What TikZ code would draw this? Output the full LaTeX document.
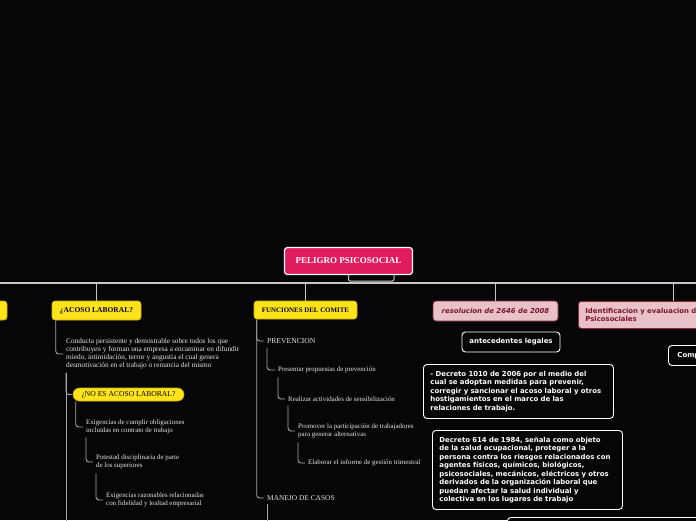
\documentclass[tikz,border=0pt]{standalone}
\usepackage{fontspec}
\setmainfont{Liberation Serif}
\newfontfamily\vsans{DejaVu Sans}
\definecolor{bgc}{HTML}{060608}
\definecolor{linec}{HTML}{C4C4C4}
\definecolor{clinec}{HTML}{A8A8A8}
\definecolor{yel}{HTML}{FFE31A}
\definecolor{yelb}{HTML}{C9AE00}
\definecolor{crim}{HTML}{E01B5E}
\definecolor{pinkf}{HTML}{E8C2C8}
\definecolor{pinkb}{HTML}{8E2535}
\definecolor{pinkt}{HTML}{7B1526}
\definecolor{txtw}{HTML}{E6E6E6}
\begin{document}
\begin{tikzpicture}[x=1pt,y=-1pt,
  mainline/.style={draw=linec,line width=1.4pt,rounded corners=4pt},
  cline/.style={draw=clinec,line width=0.9pt,rounded corners=3pt},
  rootbox/.style={draw=white,line width=1.2pt,fill=crim,rounded corners=3pt,inner sep=0pt,
    text=white,font=\bfseries\fontsize{9}{10}\selectfont},
  ybox/.style={draw=yelb,line width=0.6pt,fill=yel,rounded corners=3pt,inner sep=0pt,text=black},
  pbox/.style={draw=pinkb,line width=0.8pt,fill=pinkf,rounded corners=3pt,text=pinkt},
  wbox/.style={draw=white,line width=0.9pt,fill=bgc,rounded corners=3.5pt,text=white,
    font=\vsans\bfseries\fontsize{6.9}{8.5}\selectfont},
  stxt/.style={anchor=west,inner sep=0pt,align=left,text=txtw,font=\fontsize{6.9}{8.1}\selectfont}
]
\clip (0,0) rectangle (696,520);
\fill[bgc] (0,0) rectangle (696,520);

% root
\node[rootbox,minimum width=128pt,minimum height=27pt] (root) at (348.5,261) {PELIGRO PSICOSOCIAL};
\coordinate (tabr) at (394,275);
\draw[draw=linec,line width=1pt,rounded corners=2pt] (root.south) -- ++(0,6) -| (tabr);

% main horizontal line
\coordinate (hl) at (0,283);
\coordinate (hr) at (696,283);
\draw[mainline] (hl) -- (hr);

% first-level nodes
\node[ybox,minimum width=90pt,minimum height=19pt] (left) at (-38,310.5) {};
\node[ybox,minimum width=89pt,minimum height=19pt,font=\bfseries\fontsize{7.5}{8}\selectfont] (acoso) at (96.5,310.5) {¿ACOSO LABORAL?};
\node[ybox,minimum width=103pt,minimum height=18pt,font=\bfseries\fontsize{6.9}{7}\selectfont] (func) at (305.5,310) {FUNCIONES DEL COMITE};
\node[pbox,minimum width=125pt,minimum height=20pt,inner sep=0pt,font=\vsans\bfseries\itshape\fontsize{6.9}{8}\selectfont] (resol) at (495.5,311) {resolucion de 2646 de 2008};
\node[pbox,anchor=north west,minimum width=190pt,minimum height=27pt,inner xsep=7pt,inner ysep=0pt,text width=176pt,align=left,font=\vsans\bfseries\fontsize{6.9}{8.2}\selectfont] (ident) at (578,301) {Identificacion y evaluacion de\\Psicosociales};

\draw[mainline] (acoso.north |- hl) -- (acoso.north);
\draw[mainline] (func.north |- hl) -- (func.north);
\draw[mainline] (resol.north |- hl) -- (resol.north);
\draw[mainline] (ident.north |- hl) -- (ident.north);

% ACOSO LABORAL branch
\node[stxt,font=\fontsize{7.3}{8.1}\selectfont] (conducta) at (66,354) {Conducta persistente y demostrable sobre todos los que\\contribuyen y forman una empresa a encaminar en difundir\\miedo, intimidación, terror y angustia el cual genera\\desmotivación en el trabajo o renuncia del mismo};
\draw[cline] ([xshift=4pt]acoso.south west) |- ([xshift=-3pt]conducta.west);

\node[ybox,rounded corners=6.5pt,minimum width=111pt,minimum height=13pt,font=\fontsize{7.6}{8}\selectfont] (noes) at (128.5,394.5) {¿NO ES ACOSO LABORAL?};
\coordinate (cdown) at ([yshift=-3pt]conducta.south west);
\coordinate (cend) at (66,525);
\draw[cline] (cdown) -- (cend);
\draw[cline] (cdown) |- ([xshift=-1pt]noes.west);

\node[stxt] (exig) at (86,427) {Exigencias de cumplir obligaciones\\incluidas en contrato de trabajo};
\node[stxt] (potes) at (96,462) {Potestad disciplinaria de parte\\de los superiores};
\node[stxt] (razon) at (106,500) {Exigencias razonables relacionadas\\con fidelidad y lealtad empresarial};
\draw[cline] ([xshift=3pt]noes.south west) |- ([xshift=-3pt]exig.west);
\draw[cline] ([yshift=-3pt]exig.south west) |- ([xshift=-3pt]potes.west);
\draw[cline] ([yshift=-4pt]potes.south west) |- ([xshift=-3pt]razon.west);

% FUNCIONES DEL COMITE branch
\node[stxt,font=\fontsize{7.6}{8}\selectfont] (prev) at (267,341) {PREVENCION};
\node[stxt,font=\fontsize{7.4}{8}\selectfont] (manejo) at (267,498) {MANEJO DE CASOS};
\draw[cline] ([xshift=3pt]func.south west) |- ([xshift=-3pt]prev.west);
\draw[cline] ([xshift=3pt]func.south west) |- ([xshift=-3pt]manejo.west);
\coordinate (mdown) at ([yshift=-3pt]manejo.south west);
\coordinate (mend) at (267,525);
\draw[cline] (mdown) -- (mend);

\node[stxt] (pres) at (278,370) {Presentar propuestas de prevención};
\node[stxt] (real) at (288,399) {Realizar actividades de sensibilización};
\node[stxt] (prom) at (298,431) {Promover la participación de trabajadores\\para generar alternativas};
\node[stxt] (elab) at (308,463) {Elaborar el informe de gestión trimestral};
\draw[cline] ([yshift=-4pt]prev.south west) |- ([xshift=-3pt]pres.west);
\draw[cline] ([yshift=-4pt]pres.south west) |- ([xshift=-3pt]real.west);
\draw[cline] ([yshift=-4pt]real.south west) |- ([xshift=-3pt]prom.west);
\draw[cline] ([yshift=-4pt]prom.south west) |- ([xshift=-3pt]elab.west);

% resolucion children
\node[wbox,minimum width=98pt,minimum height=20pt,inner sep=0pt] (antec) at (511,342) {antecedentes legales};
\node[wbox,anchor=north west,minimum height=54pt,text width=176pt,inner xsep=7pt,inner ysep=0pt,align=left] (d1010) at (423,364) {- Decreto 1010 de 2006 por el medio del\\cual se adoptan medidas para prevenir,\\corregir y sancionar el acoso laboral y otros\\hostigamientos en el marco de las\\relaciones de trabajo.};
\node[wbox,anchor=north west,minimum height=79pt,text width=176pt,inner xsep=7pt,inner ysep=0pt,align=left] (d614) at (432,430) {Decreto 614 de 1984, señala como objeto\\de la salud ocupacional, proteger a la\\persona contra los riesgos relacionados con\\agentes físicos, químicos, biológicos,\\psicosociales, mecánicos, eléctricos y otros\\derivados de la organización laboral que\\puedan afectar la salud individual y\\colectiva en los lugares de trabajo};
\node[wbox,anchor=north west,minimum width=250pt,minimum height=40pt] (dnext) at (507,517) {};

% identificacion child
\node[wbox,anchor=north west,minimum height=20pt,text width=42pt,inner xsep=9pt,inner ysep=0pt,align=left] (comp) at (668,345) {Comp};
\end{tikzpicture}
\end{document}
